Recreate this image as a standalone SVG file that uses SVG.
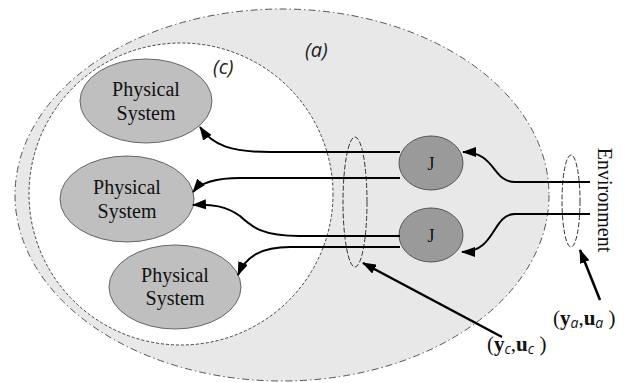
<svg xmlns="http://www.w3.org/2000/svg" width="628" height="383" viewBox="0 0 628 383">
<defs>
<marker id="ah" markerWidth="14" markerHeight="10" refX="13" refY="5" orient="auto" markerUnits="userSpaceOnUse">
<path d="M0,0 L14,5 L0,10 z" fill="#000"/>
</marker>
<style>
.ps{fill:#bfbfbf;stroke:#666;stroke-width:1}
.jn{fill:#9a9a9a;stroke:#555;stroke-width:1}
.t{font-family:"Liberation Serif",serif;font-size:20px;fill:#111;text-anchor:middle}
.jt{font-family:"Liberation Serif",serif;font-size:18px;fill:#111;text-anchor:middle}
.lab{font-family:"Open Sans","DejaVu Sans",sans-serif;font-style:italic;font-size:20px;fill:#222}
.c{fill:none;stroke:#000;stroke-width:2;marker-end:url(#ah)}
.ca{fill:none;stroke:#000;stroke-width:2.5;marker-end:url(#ah)}
.m{font-family:"Liberation Serif",serif;font-size:21px;fill:#111}
.sub{font-family:"Open Sans","DejaVu Sans",sans-serif;font-style:italic;font-size:14px}
</style>
</defs>
<rect width="628" height="383" fill="#fff"/>
<g id="region-a">
<ellipse cx="282" cy="195" rx="267" ry="186" fill="#e8e8e8" stroke="#555" stroke-width="1" stroke-dasharray="7,3,1.5,3"/>
<text class="lab" x="305" y="57">(a)</text>
</g>
<g id="region-c">
<ellipse cx="181" cy="194" rx="152" ry="151" fill="#fff" stroke="#444" stroke-width="1" stroke-dasharray="3,2"/>
<text class="lab" x="213" y="74">(c)</text>
</g>
<g id="ps1">
<ellipse class="ps" cx="146" cy="101" rx="66" ry="42"/>
<text class="t" x="146" y="96">Physical</text>
<text class="t" x="146" y="120">System</text>
</g>
<g id="ps2">
<ellipse class="ps" cx="127" cy="199" rx="67" ry="43"/>
<text class="t" x="127" y="194">Physical</text>
<text class="t" x="127" y="218">System</text>
</g>
<g id="ps3">
<ellipse class="ps" cx="175" cy="287" rx="66" ry="42"/>
<text class="t" x="175" y="282">Physical</text>
<text class="t" x="175" y="305">System</text>
</g>
<g id="j1">
<ellipse class="jn" cx="431" cy="163" rx="32" ry="27"/>
<text class="jt" x="431" y="170">J</text>
</g>
<g id="j2">
<ellipse class="jn" cx="431" cy="235" rx="32" ry="27"/>
<text class="jt" x="431" y="242">J</text>
</g>
<g id="env">
<text class="t" transform="translate(598,200) rotate(90)" x="0" y="0">Environment</text>
</g>
<g id="sel-c">
<ellipse cx="355" cy="202" rx="12" ry="65" fill="none" stroke="#333" stroke-width="1" stroke-dasharray="5,2"/>
</g>
<g id="sel-a">
<ellipse cx="571" cy="201" rx="9" ry="46" fill="none" stroke="#333" stroke-width="1" stroke-dasharray="5,2"/>
</g>
<g id="label-c">
<text class="m" x="487" y="351">(<tspan font-weight="bold">y</tspan><tspan class="sub" dy="3">c</tspan><tspan dy="-3">,</tspan><tspan font-weight="bold">u</tspan><tspan class="sub" dy="3">c</tspan><tspan dy="-3"> )</tspan></text>
</g>
<g id="label-a">
<text class="m" x="553" y="325">(<tspan font-weight="bold">y</tspan><tspan class="sub" dy="3">a</tspan><tspan dy="-3">,</tspan><tspan font-weight="bold">u</tspan><tspan class="sub" dy="3">a</tspan><tspan dy="-3"> )</tspan></text>
</g>
<g id="connectors">
<path class="c" d="M400,152 L270,152 C232,152 213,146 200,127"/>
<path class="c" d="M400,178 L240,178 C216,178 201,182 193,192"/>
<path class="c" d="M400,236 L300,236 C262,236 252,227 240,216 C226,206 212,204 193,205"/>
<path class="c" d="M400,247 L290,247 C262,247 246,256 238,275"/>
<path class="c" d="M590,182 L515,182 C492,182 496,152 463,152"/>
<path class="c" d="M590,214 L515,214 C492,214 496,252 462,252"/>
<path class="ca" d="M502,337 L363,263"/>
<path class="ca" d="M600,300 L580,250"/>
</g>
</svg>
